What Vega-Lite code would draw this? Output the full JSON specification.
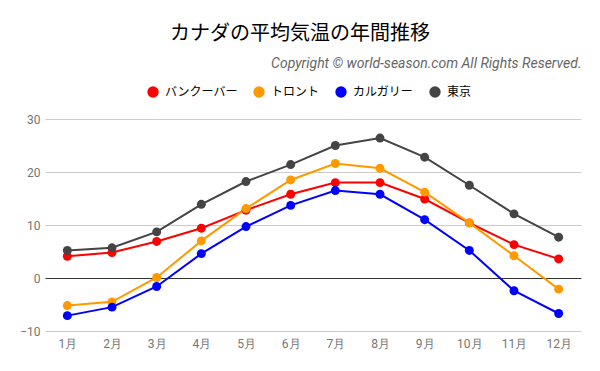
{
  "$schema": "https://vega.github.io/schema/vega-lite/v6.json",
  "autosize": "none",
  "width": 536,
  "height": 212,
  "padding": {"left": 45, "top": 119, "right": 19, "bottom": 40},
  "background": "white",
  "title": {
    "text": "カナダの平均気温の年間推移",
    "font": "Noto Sans CJK JP",
    "fontSize": 20,
    "fontWeight": "normal",
    "color": "#000000",
    "anchor": "middle",
    "dx": -13,
    "offset": 12
  },
  "data": {
    "values": [
      {"month": "1月", "city": "バンクーバー", "temp": 4.1},
      {"month": "2月", "city": "バンクーバー", "temp": 4.8},
      {"month": "3月", "city": "バンクーバー", "temp": 6.9},
      {"month": "4月", "city": "バンクーバー", "temp": 9.4},
      {"month": "5月", "city": "バンクーバー", "temp": 12.8},
      {"month": "6月", "city": "バンクーバー", "temp": 15.8},
      {"month": "7月", "city": "バンクーバー", "temp": 18.0},
      {"month": "8月", "city": "バンクーバー", "temp": 18.0},
      {"month": "9月", "city": "バンクーバー", "temp": 14.9},
      {"month": "10月", "city": "バンクーバー", "temp": 10.4},
      {"month": "11月", "city": "バンクーバー", "temp": 6.3},
      {"month": "12月", "city": "バンクーバー", "temp": 3.6},
      {"month": "1月", "city": "トロント", "temp": -5.2},
      {"month": "2月", "city": "トロント", "temp": -4.5},
      {"month": "3月", "city": "トロント", "temp": 0.1},
      {"month": "4月", "city": "トロント", "temp": 7.0},
      {"month": "5月", "city": "トロント", "temp": 13.1},
      {"month": "6月", "city": "トロント", "temp": 18.5},
      {"month": "7月", "city": "トロント", "temp": 21.6},
      {"month": "8月", "city": "トロント", "temp": 20.7},
      {"month": "9月", "city": "トロント", "temp": 16.2},
      {"month": "10月", "city": "トロント", "temp": 10.4},
      {"month": "11月", "city": "トロント", "temp": 4.2},
      {"month": "12月", "city": "トロント", "temp": -2.1},
      {"month": "1月", "city": "カルガリー", "temp": -7.1},
      {"month": "2月", "city": "カルガリー", "temp": -5.5},
      {"month": "3月", "city": "カルガリー", "temp": -1.6},
      {"month": "4月", "city": "カルガリー", "temp": 4.6},
      {"month": "5月", "city": "カルガリー", "temp": 9.7},
      {"month": "6月", "city": "カルガリー", "temp": 13.7},
      {"month": "7月", "city": "カルガリー", "temp": 16.5},
      {"month": "8月", "city": "カルガリー", "temp": 15.8},
      {"month": "9月", "city": "カルガリー", "temp": 11.0},
      {"month": "10月", "city": "カルガリー", "temp": 5.2},
      {"month": "11月", "city": "カルガリー", "temp": -2.4},
      {"month": "12月", "city": "カルガリー", "temp": -6.7},
      {"month": "1月", "city": "東京", "temp": 5.2},
      {"month": "2月", "city": "東京", "temp": 5.7},
      {"month": "3月", "city": "東京", "temp": 8.7},
      {"month": "4月", "city": "東京", "temp": 13.9},
      {"month": "5月", "city": "東京", "temp": 18.2},
      {"month": "6月", "city": "東京", "temp": 21.4},
      {"month": "7月", "city": "東京", "temp": 25.0},
      {"month": "8月", "city": "東京", "temp": 26.4},
      {"month": "9月", "city": "東京", "temp": 22.8},
      {"month": "10月", "city": "東京", "temp": 17.5},
      {"month": "11月", "city": "東京", "temp": 12.1},
      {"month": "12月", "city": "東京", "temp": 7.7}
    ]
  },
  "encoding": {
    "color": {
      "field": "city",
      "type": "nominal",
      "sort": null,
      "scale": {
        "domain": ["バンクーバー", "トロント", "カルガリー", "東京"],
        "range": ["#ff0000", "#ff9900", "#0000ff", "#444444"]
      },
      "legend": {
        "orient": "none",
        "legendX": 102,
        "legendY": -33,
        "direction": "horizontal",
        "columns": 4,
        "title": null,
        "symbolType": "circle",
        "symbolSize": 130,
        "symbolStrokeWidth": 0,
        "labelFont": "Noto Sans CJK JP",
        "labelFontSize": 12,
        "labelColor": "#000000",
        "labelOffset": 6,
        "columnPadding": 15
      }
    },
    "y": {
      "field": "temp",
      "type": "quantitative",
      "scale": {"domain": [-10, 30], "nice": false, "zero": false},
      "axis": {
        "title": null,
        "values": [-10, 0, 10, 20, 30],
        "ticks": false,
        "domain": false,
        "labelPadding": 5,
        "labelFont": "Roboto",
        "labelFontSize": 12,
        "labelColor": "#757575",
        "gridColor": {"condition": {"test": "datum.value === 0", "value": "#333333"}, "value": "#cccccc"},
        "gridWidth": 1
      }
    }
  },
  "layer": [
    {
      "mark": {"type": "line", "strokeWidth": 2},
      "encoding": {
        "x": {
          "field": "month",
          "type": "ordinal",
          "sort": null,
          "axis": {
            "title": null,
            "orient": "bottom",
            "labelAngle": 0,
            "ticks": false,
            "domain": false,
            "grid": false,
            "labelPadding": 7,
            "labelFont": "Roboto",
            "labelFontSize": 12,
            "labelColor": "#757575"
          }
        }
      }
    },
    {
      "mark": {"type": "point", "filled": true, "size": 80, "opacity": 1},
      "encoding": {
        "x": {
          "field": "month",
          "type": "ordinal",
          "sort": null,
          "axis": {
            "orient": "top",
            "title": "Copyright © world-season.com All Rights Reserved.",
            "titleAnchor": "end",
            "titleFont": "Roboto",
            "titleFontSize": 14,
            "titleFontStyle": "italic",
            "titleFontWeight": "normal",
            "titleColor": "#666666",
            "titlePadding": 49,
            "labels": false,
            "ticks": false,
            "domain": false,
            "grid": false
          }
        }
      }
    }
  ],
  "config": {
    "view": {"stroke": null}
  }
}
